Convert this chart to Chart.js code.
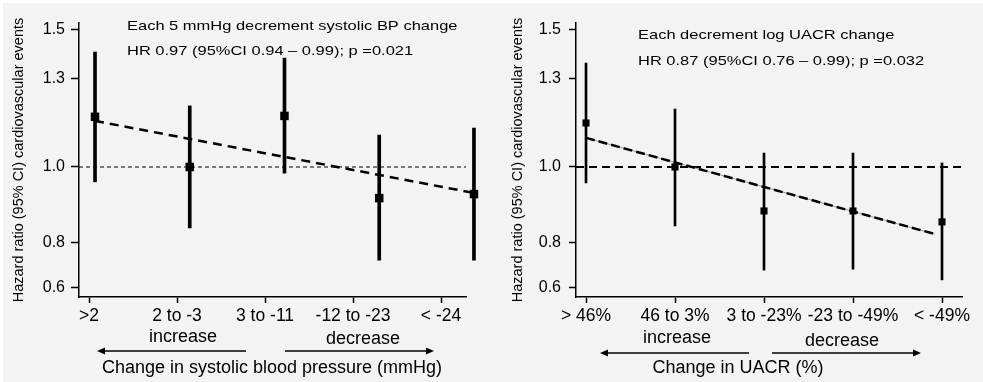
<!DOCTYPE html>
<html>
<head>
<meta charset="utf-8">
<script src="https://cdn.jsdelivr.net/npm/chart.js@4.4.1/dist/chart.umd.min.js"></script>
<style>
  html, body { margin: 0; padding: 0; background: #fff; }
  #page { position: absolute; left: 0; top: 0; width: 983px; height: 382px; overflow: hidden; }
  #bg { position: absolute; left: 3px; top: 3px; width: 980px; height: 379px; background: #f3f3f3; }
  .panel { position: absolute; top: 0; height: 382px; }
  #left { left: 0; width: 490px; }
  #right { left: 490px; width: 493px; }
</style>
</head>
<body>
<div id="page">
  <div id="bg"></div>
  <div class="panel" id="left"><canvas id="bpChart" width="490" height="382"></canvas></div>
  <div class="panel" id="right"><canvas id="uacrChart" width="493" height="382"></canvas></div>
</div>
<script>
// ---- data ----
const groups = [1, 2, 3, 4, 5];

const bpLabels = ['>2', '2 to -3', '3 to -11', '-12 to -23', '< -24'];
const bpHR = [1.16, 1.00, 1.163, 0.912, 0.923];
const bpLow = [0.957, 0.835, 0.982, 0.759, 0.759];
const bpHigh = [1.405, 1.198, 1.38, 1.099, 1.122];
const bpTrendX = [1, 5];
const bpTrend = [1.146, 0.926];

const uacrLabels = ['> 46%', '46 to 3%', '3 to -23%', '-23 to -49%', '< -49%'];
const uacrHR = [1.139, 1.00, 0.878, 0.878, 0.85];
const uacrLow = [0.954, 0.84, 0.737, 0.739, 0.716];
const uacrHigh = [1.36, 1.187, 1.042, 1.042, 1.012];
const uacrTrendX = [1, 4.92];
const uacrTrend = [1.09, 0.82];

const yTickValues = [0.7, 0.8, 1.0, 1.3, 1.5];
const yTickLabels = ['0.6', '0.8', '1.0', '1.3', '1.5'];
const yTitle = 'Hazard ratio (95% CI) cardiovascular events';

const FONT = '"Liberation Sans", Arial, Helvetica, sans-serif';
Chart.defaults.font.family = FONT;
Chart.defaults.color = '#000';

// text, arrows drawn on top of each panel
const panelText = {
  id: 'panelText',
  afterDraw(chart, args, opts) {
    const ctx = chart.ctx;
    ctx.save();
    ctx.fillStyle = '#000';
    ctx.strokeStyle = '#000';
    (opts.texts || []).forEach((t) => {
      ctx.save();
      ctx.font = t.size + 'px ' + FONT;
      ctx.textAlign = t.align || 'left';
      ctx.textBaseline = 'alphabetic';
      ctx.translate(t.x, t.y);
      ctx.scale(t.sx || 1, 1);
      ctx.fillText(t.text, 0, 0);
      ctx.restore();
    });
    (opts.arrows || []).forEach((a) => {
      const dir = a.to > a.from ? 1 : -1;
      ctx.lineWidth = 1.4;
      ctx.beginPath();
      ctx.moveTo(a.from, a.y);
      ctx.lineTo(a.to - dir * 6, a.y);
      ctx.stroke();
      ctx.beginPath();
      ctx.moveTo(a.to, a.y);
      ctx.lineTo(a.to - dir * 8, a.y - 3.5);
      ctx.lineTo(a.to - dir * 8, a.y + 3.5);
      ctx.closePath();
      ctx.fill();
    });
    ctx.restore();
  }
};

function makePanel(canvasId, p) {
  const pts = (vals) => groups.map((g, i) => ({ x: g, y: vals[i] }));
  return new Chart(document.getElementById(canvasId), {
    type: 'scatter',
    data: {
      datasets: [
        {
          type: 'scatter',
          data: pts(p.hr),
          pointStyle: 'rect',
          pointRadius: p.markerRadius,
          // larger hover radius keeps the marker past the axis end from being culled
          pointHoverRadius: 14,
          backgroundColor: '#000',
          borderWidth: 0,
          clip: false,
          order: 0,
        },
        {
          type: 'bar',
          data: groups.map((g, i) => ({ x: g, y: [p.low[i], p.high[i]] })),
          backgroundColor: '#000',
          borderWidth: 0,
          barThickness: p.barWidth,
          grouped: false,
          clip: false,
          order: 1,
        },
        {
          type: 'line',
          data: p.trendX.map((x, i) => ({ x, y: p.trend[i] })),
          borderColor: '#000',
          borderWidth: 2.5,
          borderDash: p.trendDash,
          pointRadius: 0,
          fill: false,
          clip: false,
          order: 2,
        },
        ...(p.trendUnder ? [{
          type: 'line',
          data: p.trendX.map((x, i) => ({ x, y: p.trend[i] })),
          borderColor: '#9a9a9a',
          borderWidth: 1,
          pointRadius: 0,
          fill: false,
          order: 3,
        }] : []),
        {
          type: 'line',
          data: [{ x: p.xMin, y: 1 }, { x: p.xMax, y: 1 }],
          borderColor: '#000',
          borderWidth: p.refWidth,
          borderDash: p.refDash,
          pointRadius: 0,
          fill: false,
          order: 4,
        },
      ],
    },
    options: {
      responsive: false,
      animation: false,
      events: [],
      devicePixelRatio: 1,
      layout: { padding: { left: 0, top: 23, right: p.padRight, bottom: 0 } },
      plugins: {
        legend: { display: false },
        tooltip: { enabled: false },
        panelText: { texts: p.texts, arrows: p.arrows },
      },
      scales: {
        x: {
          type: 'linear', display: false, min: p.xMin, max: p.xMax,
          offset: false, grid: { offset: false },
        },
        xt: {
          type: 'linear',
          position: 'bottom',
          min: p.tickMin,
          max: p.tickMax,
          offset: false,
          afterBuildTicks: (s) => { s.ticks = groups.map((v) => ({ value: v })); },
          afterFit: (s) => { s.height = 85; },
          ticks: {
            autoSkip: false,
            maxRotation: 0,
            minRotation: 0,
            padding: 3,
            color: '#000',
            font: { size: 17.5 },
            callback: (v, i) => p.labels[i],
          },
          grid: { drawOnChartArea: false, offset: false, tickLength: 6, tickColor: '#000', tickWidth: 1.5 },
          border: { display: true, color: '#000', width: 1.5 },
        },
        y: {
          type: 'logarithmic',
          min: 0.6807,
          max: 1.531,
          afterBuildTicks: (s) => { s.ticks = yTickValues.map((v) => ({ value: v })); },
          afterFit: (s) => { s.width = p.yWidth; },
          ticks: {
            padding: p.yTickPad,
            color: '#000',
            font: { size: 16 },
            callback: (v, i) => yTickLabels[i],
          },
          grid: { drawOnChartArea: false, tickLength: p.yTickLen, tickColor: '#000', tickWidth: 1.5 },
          border: { display: true, color: '#000', width: 1.5 },
          title: {
            display: true,
            text: yTitle,
            color: '#000',
            font: { size: 14.5 },
            padding: { top: p.yTitlePad, bottom: 0 },
          },
        },
      },
    },
    plugins: [panelText],
  });
}

makePanel('bpChart', {
  hr: bpHR, low: bpLow, high: bpHigh, trendX: bpTrendX, trend: bpTrend, labels: bpLabels,
  xMin: 0.831, xMax: 4.916, tickMin: 0.886, tickMax: 5.284,
  padRight: 24, yWidth: 79, yTickLen: 8, yTickPad: 6, yTitlePad: 10,
  markerRadius: 6, barWidth: 3,
  trendDash: [9, 6], refDash: [4, 3], refWidth: 1.2, trendUnder: false,
  texts: [
    { text: 'Each 5 mmHg decrement systolic BP change', x: 127, y: 29.5, size: 13.5, sx: 1.22 },
    { text: 'HR 0.97 (95%CI 0.94 \u2013 0.99); p =0.021', x: 127, y: 55, size: 13.5, sx: 1.22 },
    { text: 'increase', x: 183, y: 342, size: 18, align: 'center' },
    { text: 'decrease', x: 363, y: 344, size: 18, align: 'center' },
    { text: 'Change in systolic blood pressure (mmHg)', x: 272, y: 373, size: 18, align: 'center' },
  ],
  arrows: [
    { from: 246, to: 97, y: 351 },
    { from: 285, to: 434, y: 351 },
  ],
});

makePanel('uacrChart', {
  hr: uacrHR, low: uacrLow, high: uacrHigh, trendX: uacrTrendX, trend: uacrTrend, labels: uacrLabels,
  xMin: 0.8876, xMax: 5.2247, tickMin: 0.8876, tickMax: 5.2247,
  padRight: 21, yWidth: 86, yTickLen: 7, yTickPad: 8, yTitlePad: 19,
  markerRadius: 5, barWidth: 2,
  trendDash: [9, 4], refDash: [8, 5], refWidth: 2, trendUnder: true,
  texts: [
    { text: 'Each decrement log UACR change', x: 148, y: 39, size: 13.5, sx: 1.22 },
    { text: 'HR 0.87 (95%CI 0.76 \u2013 0.99); p =0.032', x: 148, y: 65, size: 13.5, sx: 1.22 },
    { text: 'increase', x: 187, y: 343, size: 18, align: 'center' },
    { text: 'decrease', x: 352, y: 346, size: 18, align: 'center' },
    { text: 'Change in UACR (%)', x: 248, y: 373, size: 18, align: 'center' },
  ],
  arrows: [
    { from: 259, to: 110, y: 353 },
    { from: 282, to: 431, y: 353 },
  ],
});
</script>
</body>
</html>
